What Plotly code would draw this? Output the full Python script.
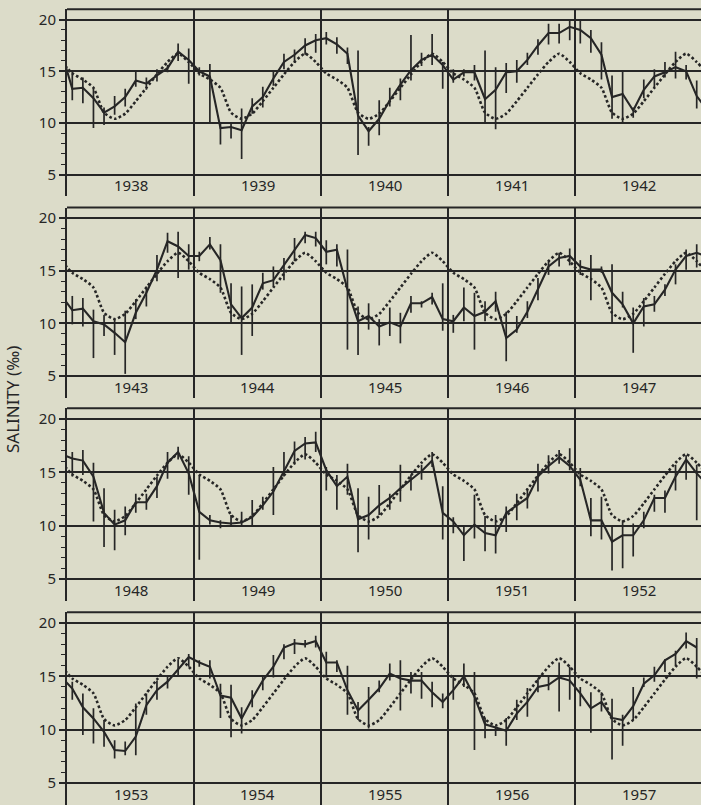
import plotly.graph_objects as go

# ---------------------------------------------------------------------------
# Monthly mean surface salinity (per mille) with monthly range, 1938-1957
# ---------------------------------------------------------------------------
panel_start_years = [1938, 1943, 1948, 1953]

# December 1937 value (only its connecting segment enters the first panel)
sal_dec_1937 = 16.8

sal_1938_1942 = [
    13.3, 13.4, 12.4, 11.0, 11.6, 12.5, 14.1, 13.8, 14.6, 15.3, 16.9, 16.1,
    15.0, 14.5, 9.5, 9.6, 9.3, 11.6, 12.5, 14.3, 15.9, 16.6, 17.5, 18.0,
    18.2, 17.6, 16.7, 10.7, 9.2, 10.4, 12.2, 13.7, 15.1, 16.1, 16.6, 15.6,
    14.2, 14.9, 14.9, 12.3, 13.2, 14.9, 15.0, 16.1, 17.5, 18.7, 18.7, 19.3,
    19.0, 18.2, 16.6, 12.5, 12.8, 11.2, 13.2, 14.5, 14.9, 15.4, 15.0, 12.6,
]
low_1938_1942 = [
    12.2, 11.9, 9.5, 9.8, 10.8, 11.6, 13.5, 13.2, 14.0, 14.9, 16.0, 13.8,
    14.6, 10.1, 7.9, 8.5, 6.5, 10.9, 11.5, 13.6, 15.2, 15.8, 16.6, 16.8,
    17.6, 16.7, 15.7, 6.9, 7.8, 8.8, 11.6, 12.2, 14.1, 15.5, 15.6, 13.3,
    13.9, 14.5, 14.1, 9.9, 9.4, 12.9, 13.9, 15.6, 16.6, 17.6, 17.7, 18.0,
    17.7, 16.8, 14.2, 10.4, 10.0, 10.5, 12.4, 13.4, 14.4, 14.3, 14.2, 11.4,
]
high_1938_1942 = [
    15.1, 14.4, 13.3, 11.5, 12.6, 13.3, 15.0, 14.4, 15.2, 15.6, 17.7, 17.2,
    15.4, 15.7, 10.1, 10.1, 11.4, 12.4, 13.5, 15.0, 16.7, 17.1, 18.2, 18.6,
    18.8, 18.3, 17.3, 17.0, 9.6, 12.2, 13.4, 14.3, 18.5, 16.8, 18.6, 15.9,
    15.2, 15.2, 15.6, 17.0, 15.4, 15.8, 16.1, 16.8, 18.1, 19.6, 19.6, 19.9,
    19.9, 19.0, 17.8, 14.6, 15.1, 11.5, 14.2, 15.2, 15.9, 16.9, 15.6, 14.1,
]

sal_1943_1947 = [
    11.25, 11.4, 10.2, 9.9, 9.1, 8.2, 11.0, 12.9, 15.1, 17.8, 17.3, 16.4,
    16.4, 17.5, 16.0, 11.8, 10.5, 11.5, 13.8, 14.1, 15.5, 17.0, 18.4, 18.1,
    16.8, 17.0, 13.2, 10.2, 10.7, 9.7, 10.1, 9.7, 11.9, 11.9, 12.5, 10.4,
    10.2, 11.5, 10.7, 11.1, 12.1, 8.6, 9.4, 11.1, 13.2, 15.4, 16.2, 16.4,
    15.4, 15.1, 15.1, 12.9, 11.8, 10.0, 11.6, 11.8, 13.2, 15.1, 16.4, 16.7,
]
low_1943_1947 = [
    9.9, 9.7, 6.7, 8.8, 7.0, 5.2, 10.4, 11.6, 14.0, 16.7, 14.3, 15.1,
    15.9, 17.0, 12.9, 10.0, 7.0, 8.8, 13.2, 13.5, 14.1, 15.9, 17.6, 17.3,
    15.6, 15.4, 7.5, 7.0, 9.4, 7.9, 8.8, 8.1, 11.0, 11.5, 11.8, 9.3,
    9.1, 10.2, 7.5, 10.2, 11.1, 6.4, 9.1, 10.5, 12.2, 14.6, 15.4, 15.5,
    14.6, 12.2, 14.8, 10.0, 11.5, 7.2, 9.7, 11.1, 12.6, 13.7, 15.1, 15.3,
]
high_1943_1947 = [
    12.6, 12.4, 11.3, 10.8, 10.5, 11.2, 12.3, 13.5, 16.5, 18.6, 18.7, 17.5,
    16.8, 18.2, 17.5, 13.8, 13.5, 13.7, 14.8, 15.4, 16.2, 18.1, 18.7, 18.7,
    17.9, 17.5, 17.0, 11.6, 11.9, 10.4, 11.5, 11.0, 12.6, 12.1, 12.9, 13.8,
    10.8, 13.4, 12.9, 12.1, 13.0, 11.1, 10.7, 12.1, 14.3, 16.0, 16.7, 17.1,
    16.0, 16.5, 15.4, 15.6, 13.0, 11.5, 12.4, 12.6, 13.7, 15.6, 17.0, 17.5,
]

sal_1948_1952 = [
    16.3, 16.1, 14.6, 11.2, 10.1, 10.5, 12.2, 12.2, 13.7, 15.9, 16.9, 14.9,
    11.3, 10.5, 10.3, 10.2, 10.3, 10.8, 11.9, 13.2, 15.1, 17.0, 17.7, 17.8,
    15.2, 13.7, 14.6, 10.6, 11.0, 11.9, 12.6, 13.5, 14.3, 15.1, 16.1, 11.2,
    10.4, 9.1, 10.1, 9.3, 9.1, 11.2, 11.9, 12.6, 14.6, 15.6, 16.4, 15.6,
    14.3, 10.5, 10.5, 8.5, 9.1, 9.1, 10.5, 12.6, 12.6, 14.6, 16.2, 14.9,
]
low_1948_1952 = [
    14.6, 14.75, 10.4, 8.0, 7.7, 9.1, 11.2, 11.5, 12.6, 14.4, 16.2, 12.9,
    6.8, 10.1, 9.75, 9.9, 9.9, 9.9, 11.5, 11.0, 14.6, 15.7, 16.2, 16.9,
    13.3, 11.5, 12.9, 7.5, 8.7, 11.0, 11.5, 12.25, 13.3, 14.3, 15.5, 8.7,
    9.3, 6.7, 8.8, 7.6, 7.4, 9.4, 10.5, 11.6, 13.2, 14.9, 15.8, 15.2,
    13.7, 9.0, 8.7, 5.8, 6.0, 7.1, 9.75, 11.3, 11.2, 13.3, 14.3, 10.5,
]
high_1948_1952 = [
    16.9, 17.1, 15.9, 13.5, 11.5, 11.8, 13.0, 13.0, 14.6, 16.9, 17.4, 16.5,
    14.75, 11.0, 10.5, 11.0, 11.3, 12.4, 12.7, 15.5, 16.9, 17.9, 18.3, 18.8,
    15.5, 14.75, 15.8, 13.5, 12.7, 13.8, 13.0, 15.7, 14.75, 15.7, 16.9, 13.7,
    10.8, 10.0, 12.9, 10.9, 11.0, 11.8, 13.0, 13.5, 15.8, 16.6, 17.1, 17.25,
    15.4, 12.6, 12.7, 9.9, 10.5, 10.2, 11.3, 12.9, 13.3, 15.7, 16.6, 15.7,
]

sal_1953_1957 = [
    13.85, 12.1, 11.05, 9.8, 8.1, 8.0, 9.35, 12.3, 13.7, 14.5, 15.7, 16.8,
    16.3, 15.9, 13.2, 13.0, 11.05, 12.9, 14.6, 15.9, 17.7, 18.1, 18.0, 18.3,
    16.3, 16.3, 13.7, 11.8, 12.8, 13.85, 15.25, 14.8, 14.6, 14.6, 13.5, 12.6,
    13.7, 15.0, 13.1, 10.5, 10.2, 9.9, 11.5, 12.6, 14.0, 14.2, 14.9, 14.6,
    13.4, 12.0, 12.6, 11.1, 10.9, 12.2, 14.3, 15.1, 16.5, 17.1, 18.3, 17.7,
]
low_1953_1957 = [
    12.8, 9.5, 8.7, 8.4, 7.3, 7.6, 7.6, 11.4, 12.8, 13.85, 15.1, 15.9,
    15.9, 14.8, 11.1, 9.3, 9.65, 12.1, 13.7, 14.9, 16.6, 17.1, 17.7, 17.7,
    14.9, 15.4, 11.4, 10.9, 10.1, 13.5, 14.6, 11.8, 13.4, 12.9, 12.1, 12.0,
    12.8, 14.0, 8.1, 9.2, 9.4, 8.5, 10.9, 11.2, 13.5, 13.7, 11.7, 12.8,
    12.2, 9.7, 11.7, 7.2, 8.5, 10.9, 14.0, 14.5, 15.4, 16.0, 17.6, 14.8,
]
high_1953_1957 = [
    14.5, 13.4, 12.0, 10.9, 9.0, 8.9, 12.45, 13.4, 14.6, 15.1, 16.6, 17.1,
    16.5, 16.5, 14.3, 14.2, 12.1, 13.7, 15.1, 17.0, 18.0, 18.5, 18.4, 18.8,
    17.3, 16.5, 16.0, 12.6, 14.0, 14.6, 16.2, 16.5, 15.4, 15.4, 14.5, 13.4,
    15.1, 16.2, 15.4, 11.1, 10.3, 11.1, 12.8, 13.9, 14.8, 15.1, 16.3, 15.9,
    14.0, 13.5, 13.5, 12.9, 11.4, 14.0, 14.9, 15.9, 16.6, 17.4, 19.1, 18.6,
]

# Long-term mean for each calendar month (Jan..Dec)
monthly_mean = [14.8, 14.2, 13.4, 11.0, 10.4, 10.9, 12.1, 13.4, 14.7, 15.9, 16.7, 15.9]

y_tick_vals = [5, 10, 15, 20]
y_tick_text = ["5", "10", "15", "20"]
y_minor_vals = [6, 7, 8, 9, 11, 12, 13, 14, 16, 17, 18, 19]

# ---------------------------------------------------------------------------
# Assemble continuous monthly series (mid-month positions in decimal years)
# ---------------------------------------------------------------------------
sal_all = [sal_dec_1937] + sal_1938_1942 + sal_1943_1947 + sal_1948_1952 + sal_1953_1957
low_all = [sal_dec_1937] + low_1938_1942 + low_1943_1947 + low_1948_1952 + low_1953_1957
high_all = [sal_dec_1937] + high_1938_1942 + high_1943_1947 + high_1948_1952 + high_1953_1957
x_all = [1937 + 11.5 / 12] + [yr + (m + 0.5) / 12 for yr in range(1938, 1958) for m in range(12)]

clim_x = [1937 + 11.5 / 12] + [yr + (m + 0.5) / 12 for yr in range(1938, 1958) for m in range(12)] + [1958 + 0.5 / 12]
clim_y = [monthly_mean[11]] + [monthly_mean[m] for yr in range(1938, 1958) for m in range(12)] + [monthly_mean[0]]

# ---------------------------------------------------------------------------
# Figure geometry
# ---------------------------------------------------------------------------
W, H = 701, 805
BG = "#dcdcc9"
INK = "#262626"
FONT = "Noto Sans"

left_px = 67
plot_w = W - left_px
year_px = 127.0
x_span = plot_w / year_px          # visible years per panel

panel_top_px = [9.3, 207.5, 408.3, 612.3]
panel_scale = [10.33, 10.53, 10.67, 10.67]  # pixels per salinity unit
y_top = 21.0
y_floor = 2.9

fig = go.Figure()
layout_axes = {}
shapes = []
annotations = []

for i, (y0, top, scale) in enumerate(zip(panel_start_years, panel_top_px, panel_scale)):
    n = i + 1
    xa = "x" if n == 1 else f"x{n}"
    ya = "y" if n == 1 else f"y{n}"
    bottom = min(H, top + (y_top - y_floor) * scale)
    y_bottom = y_top - (bottom - top) / scale

    # points within (and one month beyond) the visible window
    idx = [k for k, xv in enumerate(x_all) if y0 - 0.1 <= xv <= y0 + 5.1]
    xs = [x_all[k] for k in idx]
    ys = [sal_all[k] for k in idx]
    e_plus = [high_all[k] - sal_all[k] for k in idx]
    e_minus = [sal_all[k] - low_all[k] for k in idx]

    cidx = [k for k, xv in enumerate(clim_x) if y0 - 0.1 <= xv <= y0 + 5.1]

    fig.add_trace(go.Scatter(
        x=[clim_x[k] for k in cidx], y=[clim_y[k] for k in cidx],
        mode="lines", line=dict(color=INK, width=2.6, dash="2.6px,2.4px", shape="spline", smoothing=0.6),
        xaxis=xa, yaxis=ya, showlegend=False, hoverinfo="skip",
    ))
    fig.add_trace(go.Scatter(
        x=xs, y=ys, mode="lines",
        line=dict(color=INK, width=2.1),
        error_y=dict(type="data", symmetric=False, array=e_plus, arrayminus=e_minus,
                     color=INK, thickness=1.7, width=0),
        xaxis=xa, yaxis=ya, showlegend=False,
    ))

    dom = [1 - bottom / H, 1 - top / H]
    layout_axes[f"xaxis{'' if n == 1 else n}"] = dict(
        domain=[0, 1], range=[y0, y0 + x_span], anchor=ya,
        tickmode="array", tickvals=[y0 + k for k in range(1, 5)],
        showticklabels=False, ticks="", showgrid=True, gridcolor=INK, gridwidth=2,
        zeroline=False, showline=False, fixedrange=True,
    )
    layout_axes[f"yaxis{'' if n == 1 else n}"] = dict(
        domain=dom, range=[y_bottom, y_top], anchor=xa,
        tickmode="array", tickvals=y_tick_vals, ticktext=y_tick_text,
        ticks="outside", ticklen=6, tickwidth=1.6, tickcolor=INK,
        tickfont=dict(family=FONT, size=15, color=INK),
        showgrid=True, gridcolor=INK, gridwidth=2, zeroline=False,
        showline=True, linecolor=INK, linewidth=2,
        minor=dict(tickmode="array", tickvals=y_minor_vals, ticks="outside",
                   ticklen=4, tickwidth=1.2, tickcolor=INK, showgrid=False),
        fixedrange=True,
    )
    # top frame of the panel
    shapes.append(dict(type="line", xref=f"{xa} domain", yref=f"{ya} domain",
                       x0=0, x1=1, y0=1, y1=1, line=dict(color=INK, width=2)))
    # year labels in the strip under each panel
    for k in range(5):
        annotations.append(dict(
            x=y0 + k + 0.5, y=3.95, xref=xa, yref=ya, text=str(y0 + k),
            showarrow=False, font=dict(family=FONT, size=15, color=INK),
        ))

# vertical axis title, placed in the left margin
annotations.append(dict(
    x=(12 - left_px) / plot_w, y=1 - 400 / H, xref="paper", yref="paper",
    text="SALINITY (‰)", textangle=-90, showarrow=False,
    xanchor="center", yanchor="middle",
    font=dict(family=FONT, size=17, color=INK),
))

fig.update_layout(
    width=W, height=H,
    margin=dict(l=left_px, r=0, t=0, b=0),
    paper_bgcolor=BG, plot_bgcolor=BG,
    shapes=shapes, annotations=annotations,
    **layout_axes,
)

fig.write_html("out.html")
